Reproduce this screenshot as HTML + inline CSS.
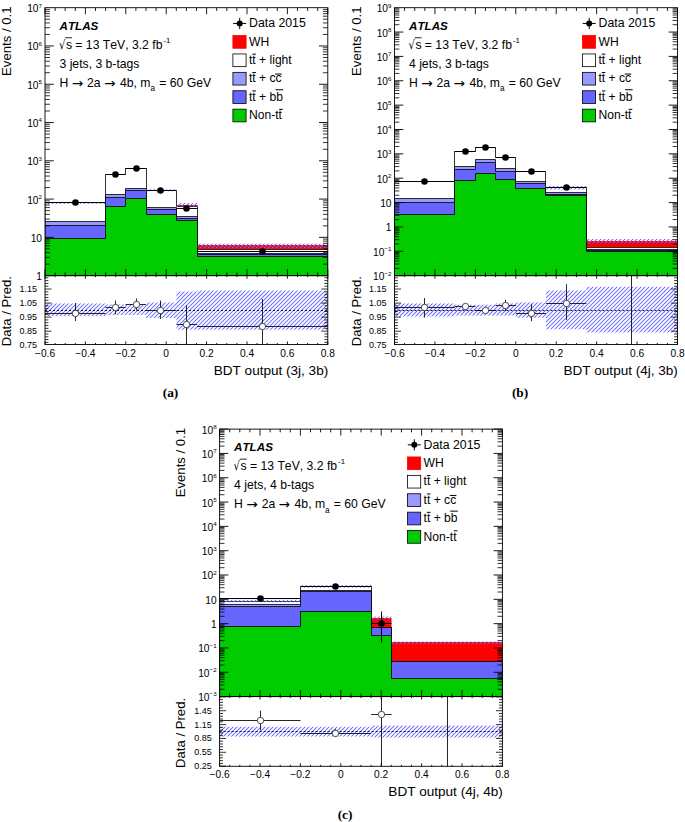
<!DOCTYPE html>
<html lang="en"><head><meta charset="utf-8"><title>ATLAS BDT output</title>
<style>html,body{margin:0;padding:0;background:#fff}body{width:685px;height:822px;overflow:hidden}svg text{white-space:pre;font-kerning:none;font-family:"Liberation Sans",Arial,Helvetica,sans-serif;fill:#000}</style></head>
<body>
<svg width="685" height="822" viewBox="0 0 685 822" style="display:block">
<rect width="685" height="822" fill="#fff"/>
<clipPath id="cma"><rect x="45.0" y="7.7" width="282.8" height="267.95"/></clipPath>
<clipPath id="cra"><rect x="45.0" y="275.65" width="282.8" height="68.85000000000002"/></clipPath>
<g clip-path="url(#cma)">
<rect x="176.5" y="205" width="21" height="1.5" fill="#ff0000"/>
<rect x="197.5" y="245" width="130.3" height="4.5" fill="#ff0000"/>
<path d="M45.00,277.65 L45.00,202.50 L105.50,202.50 L105.50,174.50 L125.50,174.50 L125.50,168.50 L146.50,168.50 L146.50,190.50 L176.50,190.50 L176.50,206.50 L197.50,206.50 L197.50,249.50 L327.80,249.50 L327.80,277.65Z" fill="#fff" stroke="#000" stroke-width="0.8" stroke-linejoin="miter"/>
<path d="M45.00,277.65 L45.00,221.50 L105.50,221.50 L105.50,194.50 L125.50,194.50 L125.50,188.50 L146.50,188.50 L146.50,207.50 L176.50,207.50 L176.50,216.50 L197.50,216.50 L197.50,253.50 L327.80,253.50 L327.80,277.65Z" fill="#9999ff" stroke="#000" stroke-width="0.8" stroke-linejoin="miter"/>
<path d="M45.00,277.65 L45.00,225.50 L105.50,225.50 L105.50,197.50 L125.50,197.50 L125.50,190.50 L146.50,190.50 L146.50,209.50 L176.50,209.50 L176.50,218.50 L197.50,218.50 L197.50,254.50 L327.80,254.50 L327.80,277.65Z" fill="#6666ff" stroke="#000" stroke-width="0.8" stroke-linejoin="miter"/>
<path d="M45.00,277.65 L45.00,238.50 L105.50,238.50 L105.50,206.50 L125.50,206.50 L125.50,198.50 L146.50,198.50 L146.50,214.50 L176.50,214.50 L176.50,220.50 L197.50,220.50 L197.50,256.50 L327.80,256.50 L327.80,277.65Z" fill="#00cc00" stroke="#000" stroke-width="0.8" stroke-linejoin="miter"/>
</g>
<clipPath id="h1"><rect x="45" y="201.9" width="60.5" height="2"/><rect x="146.5" y="189.2" width="30" height="2"/><rect x="176.5" y="203" width="21" height="3.8"/><rect x="197.5" y="243.8" width="130.3" height="4.6"/></clipPath>
<path clip-path="url(#h1)" d="M-17,249l60,-60M-13,249l60,-60M-9,249l60,-60M-5,249l60,-60M-1,249l60,-60M3,249l60,-60M7,249l60,-60M11,249l60,-60M15,249l60,-60M19,249l60,-60M23,249l60,-60M27,249l60,-60M31,249l60,-60M35,249l60,-60M39,249l60,-60M43,249l60,-60M47,249l60,-60M51,249l60,-60M55,249l60,-60M59,249l60,-60M63,249l60,-60M67,249l60,-60M71,249l60,-60M75,249l60,-60M79,249l60,-60M83,249l60,-60M87,249l60,-60M91,249l60,-60M95,249l60,-60M99,249l60,-60M103,249l60,-60M107,249l60,-60M111,249l60,-60M115,249l60,-60M119,249l60,-60M123,249l60,-60M127,249l60,-60M131,249l60,-60M135,249l60,-60M139,249l60,-60M143,249l60,-60M147,249l60,-60M151,249l60,-60M155,249l60,-60M159,249l60,-60M163,249l60,-60M167,249l60,-60M171,249l60,-60M175,249l60,-60M179,249l60,-60M183,249l60,-60M187,249l60,-60M191,249l60,-60M195,249l60,-60M199,249l60,-60M203,249l60,-60M207,249l60,-60M211,249l60,-60M215,249l60,-60M219,249l60,-60M223,249l60,-60M227,249l60,-60M231,249l60,-60M235,249l60,-60M239,249l60,-60M243,249l60,-60M247,249l60,-60M251,249l60,-60M255,249l60,-60M259,249l60,-60M263,249l60,-60M267,249l60,-60M271,249l60,-60M275,249l60,-60M279,249l60,-60M283,249l60,-60M287,249l60,-60M291,249l60,-60M295,249l60,-60M299,249l60,-60M303,249l60,-60M307,249l60,-60M311,249l60,-60M315,249l60,-60M319,249l60,-60M323,249l60,-60M327,249l60,-60" stroke="#6a6aff" stroke-width="1.05" fill="none"/>
<path d="M45,202.5L105.5,202.5" stroke="#000" stroke-width="1.0" />
<circle cx="75.50" cy="202.50" r="3.3" fill="#000"/>
<path d="M105.5,174.5L125.5,174.5" stroke="#000" stroke-width="1.0" />
<circle cx="115.50" cy="174.50" r="3.3" fill="#000"/>
<path d="M125.5,168.5L146.5,168.5" stroke="#000" stroke-width="1.0" />
<circle cx="136.50" cy="168.50" r="3.3" fill="#000"/>
<path d="M146.5,190.5L176.5,190.5" stroke="#000" stroke-width="1.0" />
<circle cx="160.50" cy="190.50" r="3.3" fill="#000"/>
<path d="M176.5,208.5L197.5,208.5" stroke="#000" stroke-width="1.0" />
<circle cx="186.50" cy="208.50" r="3.3" fill="#000"/>
<path d="M197.5,251.5L327.8,251.5" stroke="#000" stroke-width="1.0" />
<circle cx="262.50" cy="251.50" r="3.3" fill="#000"/>
<clipPath id="h2"><rect x="45" y="303.6" width="60.5" height="12.4"/><rect x="105.5" y="304.6" width="40.5" height="10.4"/><rect x="146" y="302.6" width="30.5" height="15.4"/><rect x="176.5" y="291.5" width="20.5" height="38.25"/><rect x="197" y="290.5" width="130.8" height="39.25"/></clipPath>
<path clip-path="url(#h2)" d="M2,330l40,-40M6,330l40,-40M10,330l40,-40M14,330l40,-40M18,330l40,-40M22,330l40,-40M26,330l40,-40M30,330l40,-40M34,330l40,-40M38,330l40,-40M42,330l40,-40M46,330l40,-40M50,330l40,-40M54,330l40,-40M58,330l40,-40M62,330l40,-40M66,330l40,-40M70,330l40,-40M74,330l40,-40M78,330l40,-40M82,330l40,-40M86,330l40,-40M90,330l40,-40M94,330l40,-40M98,330l40,-40M102,330l40,-40M106,330l40,-40M110,330l40,-40M114,330l40,-40M118,330l40,-40M122,330l40,-40M126,330l40,-40M130,330l40,-40M134,330l40,-40M138,330l40,-40M142,330l40,-40M146,330l40,-40M150,330l40,-40M154,330l40,-40M158,330l40,-40M162,330l40,-40M166,330l40,-40M170,330l40,-40M174,330l40,-40M178,330l40,-40M182,330l40,-40M186,330l40,-40M190,330l40,-40M194,330l40,-40M198,330l40,-40M202,330l40,-40M206,330l40,-40M210,330l40,-40M214,330l40,-40M218,330l40,-40M222,330l40,-40M226,330l40,-40M230,330l40,-40M234,330l40,-40M238,330l40,-40M242,330l40,-40M246,330l40,-40M250,330l40,-40M254,330l40,-40M258,330l40,-40M262,330l40,-40M266,330l40,-40M270,330l40,-40M274,330l40,-40M278,330l40,-40M282,330l40,-40M286,330l40,-40M290,330l40,-40M294,330l40,-40M298,330l40,-40M302,330l40,-40M306,330l40,-40M310,330l40,-40M314,330l40,-40M318,330l40,-40M322,330l40,-40M326,330l40,-40" stroke="#6a6aff" stroke-width="1.05" fill="none"/>
<g clip-path="url(#cra)">
<path d="M45,310.5L327.8,310.5" stroke="#000" stroke-width="0.9" stroke-dasharray="2 2"/>
<path d="M45,313.5L105.5,313.5" stroke="#111" stroke-width="0.9" />
<path d="M75.5,303L75.5,321" stroke="#111" stroke-width="0.9" />
<circle cx="75.50" cy="313.50" r="3.2" fill="#fff" stroke="#222" stroke-width="0.8"/>
<path d="M105.5,307.5L125.6,307.5" stroke="#111" stroke-width="0.9" />
<path d="M115.5,300.5L115.5,314.25" stroke="#111" stroke-width="0.9" />
<circle cx="115.50" cy="307.50" r="3.2" fill="#fff" stroke="#222" stroke-width="0.8"/>
<path d="M125.6,304.5L146,304.5" stroke="#111" stroke-width="0.9" />
<path d="M136.5,298.5L136.5,310.5" stroke="#111" stroke-width="0.9" />
<circle cx="136.50" cy="304.50" r="3.2" fill="#fff" stroke="#222" stroke-width="0.8"/>
<path d="M146,310.5L176.5,310.5" stroke="#111" stroke-width="0.9" />
<path d="M160.5,300.5L160.5,319" stroke="#111" stroke-width="0.9" />
<circle cx="160.50" cy="310.50" r="3.2" fill="#fff" stroke="#222" stroke-width="0.8"/>
<path d="M176.5,324.5L197,324.5" stroke="#111" stroke-width="0.9" />
<path d="M186.5,305.5L186.5,346" stroke="#111" stroke-width="0.9" />
<circle cx="186.50" cy="324.50" r="3.2" fill="#fff" stroke="#222" stroke-width="0.8"/>
<path d="M197,326.5L327.8,326.5" stroke="#111" stroke-width="0.9" />
<path d="M262.5,299L262.5,346" stroke="#111" stroke-width="0.9" />
<circle cx="262.50" cy="326.50" r="3.2" fill="#fff" stroke="#222" stroke-width="0.8"/>
</g>
<rect x="45.0" y="7.7" width="282.8" height="267.95" fill="none" stroke="#000" stroke-width="0.9"/>
<rect x="45.0" y="275.65" width="282.8" height="68.85000000000002" fill="none" stroke="#000" stroke-width="0.9"/>
<text x="45" y="357" font-size="10.2" text-anchor="middle" >−0.6</text>
<text x="85.4" y="357" font-size="10.2" text-anchor="middle" >−0.4</text>
<text x="125.8" y="357" font-size="10.2" text-anchor="middle" >−0.2</text>
<text x="166.2" y="357" font-size="10.2" text-anchor="middle" >0</text>
<text x="206.6" y="357" font-size="10.2" text-anchor="middle" >0.2</text>
<text x="247" y="357" font-size="10.2" text-anchor="middle" >0.4</text>
<text x="287.4" y="357" font-size="10.2" text-anchor="middle" >0.6</text>
<text x="327.8" y="357" font-size="10.2" text-anchor="middle" >0.8</text>
<text x="42" y="280.1" font-size="10.2" text-anchor="end" >1</text>
<text x="42" y="241.82" font-size="10.2" text-anchor="end" >10</text>
<text x="42" y="203.54" font-size="10.2" text-anchor="end" >10<tspan dy="-4.6" font-size="6.2">2</tspan></text>
<text x="42" y="165.26" font-size="10.2" text-anchor="end" >10<tspan dy="-4.6" font-size="6.2">3</tspan></text>
<text x="42" y="126.99" font-size="10.2" text-anchor="end" >10<tspan dy="-4.6" font-size="6.2">4</tspan></text>
<text x="42" y="88.71" font-size="10.2" text-anchor="end" >10<tspan dy="-4.6" font-size="6.2">5</tspan></text>
<text x="42" y="50.43" font-size="10.2" text-anchor="end" >10<tspan dy="-4.6" font-size="6.2">6</tspan></text>
<text x="42" y="12.15" font-size="10.2" text-anchor="end" >10<tspan dy="-4.6" font-size="6.2">7</tspan></text>
<text x="37.1" y="348.2" font-size="9.0" text-anchor="end" >0.75</text>
<text x="37.1" y="334.16" font-size="9.0" text-anchor="end" >0.85</text>
<text x="37.1" y="320.12" font-size="9.0" text-anchor="end" >0.95</text>
<text x="37.1" y="306.08" font-size="9.0" text-anchor="end" >1.05</text>
<text x="37.1" y="292.04" font-size="9.0" text-anchor="end" >1.15</text>
<path d="M45,7.7L45,14.2M45,275.65L45,269.15M45,275.65L45,278.65M45,344.5L45,341.5M55.1,7.7L55.1,10.9M55.1,275.65L55.1,272.45M55.1,275.65L55.1,277.15M55.1,344.5L55.1,343M65.2,7.7L65.2,10.9M65.2,275.65L65.2,272.45M65.2,275.65L65.2,277.15M65.2,344.5L65.2,343M75.3,7.7L75.3,10.9M75.3,275.65L75.3,272.45M75.3,275.65L75.3,277.15M75.3,344.5L75.3,343M85.4,7.7L85.4,14.2M85.4,275.65L85.4,269.15M85.4,275.65L85.4,278.65M85.4,344.5L85.4,341.5M95.5,7.7L95.5,10.9M95.5,275.65L95.5,272.45M95.5,275.65L95.5,277.15M95.5,344.5L95.5,343M105.6,7.7L105.6,10.9M105.6,275.65L105.6,272.45M105.6,275.65L105.6,277.15M105.6,344.5L105.6,343M115.7,7.7L115.7,10.9M115.7,275.65L115.7,272.45M115.7,275.65L115.7,277.15M115.7,344.5L115.7,343M125.8,7.7L125.8,14.2M125.8,275.65L125.8,269.15M125.8,275.65L125.8,278.65M125.8,344.5L125.8,341.5M135.9,7.7L135.9,10.9M135.9,275.65L135.9,272.45M135.9,275.65L135.9,277.15M135.9,344.5L135.9,343M146,7.7L146,10.9M146,275.65L146,272.45M146,275.65L146,277.15M146,344.5L146,343M156.1,7.7L156.1,10.9M156.1,275.65L156.1,272.45M156.1,275.65L156.1,277.15M156.1,344.5L156.1,343M166.2,7.7L166.2,14.2M166.2,275.65L166.2,269.15M166.2,275.65L166.2,278.65M166.2,344.5L166.2,341.5M176.3,7.7L176.3,10.9M176.3,275.65L176.3,272.45M176.3,275.65L176.3,277.15M176.3,344.5L176.3,343M186.4,7.7L186.4,10.9M186.4,275.65L186.4,272.45M186.4,275.65L186.4,277.15M186.4,344.5L186.4,343M196.5,7.7L196.5,10.9M196.5,275.65L196.5,272.45M196.5,275.65L196.5,277.15M196.5,344.5L196.5,343M206.6,7.7L206.6,14.2M206.6,275.65L206.6,269.15M206.6,275.65L206.6,278.65M206.6,344.5L206.6,341.5M216.7,7.7L216.7,10.9M216.7,275.65L216.7,272.45M216.7,275.65L216.7,277.15M216.7,344.5L216.7,343M226.8,7.7L226.8,10.9M226.8,275.65L226.8,272.45M226.8,275.65L226.8,277.15M226.8,344.5L226.8,343M236.9,7.7L236.9,10.9M236.9,275.65L236.9,272.45M236.9,275.65L236.9,277.15M236.9,344.5L236.9,343M247,7.7L247,14.2M247,275.65L247,269.15M247,275.65L247,278.65M247,344.5L247,341.5M257.1,7.7L257.1,10.9M257.1,275.65L257.1,272.45M257.1,275.65L257.1,277.15M257.1,344.5L257.1,343M267.2,7.7L267.2,10.9M267.2,275.65L267.2,272.45M267.2,275.65L267.2,277.15M267.2,344.5L267.2,343M277.3,7.7L277.3,10.9M277.3,275.65L277.3,272.45M277.3,275.65L277.3,277.15M277.3,344.5L277.3,343M287.4,7.7L287.4,14.2M287.4,275.65L287.4,269.15M287.4,275.65L287.4,278.65M287.4,344.5L287.4,341.5M297.5,7.7L297.5,10.9M297.5,275.65L297.5,272.45M297.5,275.65L297.5,277.15M297.5,344.5L297.5,343M307.6,7.7L307.6,10.9M307.6,275.65L307.6,272.45M307.6,275.65L307.6,277.15M307.6,344.5L307.6,343M317.7,7.7L317.7,10.9M317.7,275.65L317.7,272.45M317.7,275.65L317.7,277.15M317.7,344.5L317.7,343M327.8,7.7L327.8,14.2M327.8,275.65L327.8,269.15M327.8,275.65L327.8,278.65M327.8,344.5L327.8,341.5M45,275.65L53.8,275.65M327.8,275.65L319,275.65M45,237.37L53.8,237.37M327.8,237.37L319,237.37M45,199.09L53.8,199.09M327.8,199.09L319,199.09M45,160.81L53.8,160.81M327.8,160.81L319,160.81M45,122.54L53.8,122.54M327.8,122.54L319,122.54M45,84.26L53.8,84.26M327.8,84.26L319,84.26M45,45.98L53.8,45.98M327.8,45.98L319,45.98" stroke="#000" stroke-width="0.9" fill="none"/>
<path d="M45,264.13L49.9,264.13M327.8,264.13L322.9,264.13M45,257.39L49.9,257.39M327.8,257.39L322.9,257.39M45,252.6L49.9,252.6M327.8,252.6L322.9,252.6M45,248.89L49.9,248.89M327.8,248.89L322.9,248.89M45,245.86L49.9,245.86M327.8,245.86L322.9,245.86M45,243.3L49.9,243.3M327.8,243.3L322.9,243.3M45,241.08L49.9,241.08M327.8,241.08L322.9,241.08M45,239.12L49.9,239.12M327.8,239.12L322.9,239.12M45,225.85L49.9,225.85M327.8,225.85L322.9,225.85M45,219.11L49.9,219.11M327.8,219.11L322.9,219.11M45,214.33L49.9,214.33M327.8,214.33L322.9,214.33M45,210.62L49.9,210.62M327.8,210.62L322.9,210.62M45,207.58L49.9,207.58M327.8,207.58L322.9,207.58M45,205.02L49.9,205.02M327.8,205.02L322.9,205.02M45,202.8L49.9,202.8M327.8,202.8L322.9,202.8M45,200.84L49.9,200.84M327.8,200.84L322.9,200.84M45,187.57L49.9,187.57M327.8,187.57L322.9,187.57M45,180.83L49.9,180.83M327.8,180.83L322.9,180.83M45,176.05L49.9,176.05M327.8,176.05L322.9,176.05M45,172.34L49.9,172.34M327.8,172.34L322.9,172.34M45,169.31L49.9,169.31M327.8,169.31L322.9,169.31M45,166.74L49.9,166.74M327.8,166.74L322.9,166.74M45,164.52L49.9,164.52M327.8,164.52L322.9,164.52M45,162.57L49.9,162.57M327.8,162.57L322.9,162.57M45,149.29L49.9,149.29M327.8,149.29L322.9,149.29M45,142.55L49.9,142.55M327.8,142.55L322.9,142.55M45,137.77L49.9,137.77M327.8,137.77L322.9,137.77M45,134.06L49.9,134.06M327.8,134.06L322.9,134.06M45,131.03L49.9,131.03M327.8,131.03L322.9,131.03M45,128.47L49.9,128.47M327.8,128.47L322.9,128.47M45,126.25L49.9,126.25M327.8,126.25L322.9,126.25M45,124.29L49.9,124.29M327.8,124.29L322.9,124.29M45,111.01L49.9,111.01M327.8,111.01L322.9,111.01M45,104.27L49.9,104.27M327.8,104.27L322.9,104.27M45,99.49L49.9,99.49M327.8,99.49L322.9,99.49M45,95.78L49.9,95.78M327.8,95.78L322.9,95.78M45,92.75L49.9,92.75M327.8,92.75L322.9,92.75M45,90.19L49.9,90.19M327.8,90.19L322.9,90.19M45,87.97L49.9,87.97M327.8,87.97L322.9,87.97M45,86.01L49.9,86.01M327.8,86.01L322.9,86.01M45,72.73L49.9,72.73M327.8,72.73L322.9,72.73M45,65.99L49.9,65.99M327.8,65.99L322.9,65.99M45,61.21L49.9,61.21M327.8,61.21L322.9,61.21M45,57.5L49.9,57.5M327.8,57.5L322.9,57.5M45,54.47L49.9,54.47M327.8,54.47L322.9,54.47M45,51.91L49.9,51.91M327.8,51.91L322.9,51.91M45,49.69L49.9,49.69M327.8,49.69L322.9,49.69M45,47.73L49.9,47.73M327.8,47.73L322.9,47.73M45,34.46L49.9,34.46M327.8,34.46L322.9,34.46M45,27.72L49.9,27.72M327.8,27.72L322.9,27.72M45,22.93L49.9,22.93M327.8,22.93L322.9,22.93M45,19.22L49.9,19.22M327.8,19.22L322.9,19.22M45,16.19L49.9,16.19M327.8,16.19L322.9,16.19M45,13.63L49.9,13.63M327.8,13.63L322.9,13.63M45,11.41L49.9,11.41M327.8,11.41L322.9,11.41M45,9.45L49.9,9.45M327.8,9.45L322.9,9.45M45,342.39L48.4,342.39M327.8,342.39L324.4,342.39M45,339.58L48.4,339.58M327.8,339.58L324.4,339.58M45,336.78L48.4,336.78M327.8,336.78L324.4,336.78M45,333.97L48.4,333.97M327.8,333.97L324.4,333.97M45,331.16L51.5,331.16M327.8,331.16L321.3,331.16M45,328.35L48.4,328.35M327.8,328.35L324.4,328.35M45,325.54L48.4,325.54M327.8,325.54L324.4,325.54M45,322.74L48.4,322.74M327.8,322.74L324.4,322.74M45,319.93L48.4,319.93M327.8,319.93L324.4,319.93M45,317.12L51.5,317.12M327.8,317.12L321.3,317.12M45,314.31L48.4,314.31M327.8,314.31L324.4,314.31M45,311.5L48.4,311.5M327.8,311.5L324.4,311.5M45,308.7L48.4,308.7M327.8,308.7L324.4,308.7M45,305.89L48.4,305.89M327.8,305.89L324.4,305.89M45,303.08L51.5,303.08M327.8,303.08L321.3,303.08M45,300.27L48.4,300.27M327.8,300.27L324.4,300.27M45,297.46L48.4,297.46M327.8,297.46L324.4,297.46M45,294.66L48.4,294.66M327.8,294.66L324.4,294.66M45,291.85L48.4,291.85M327.8,291.85L324.4,291.85M45,289.04L51.5,289.04M327.8,289.04L321.3,289.04M45,286.23L48.4,286.23M327.8,286.23L324.4,286.23M45,283.42L48.4,283.42M327.8,283.42L324.4,283.42M45,280.62L48.4,280.62M327.8,280.62L324.4,280.62M45,277.81L48.4,277.81M327.8,277.81L324.4,277.81" stroke="#000" stroke-width="0.8" fill="none"/>
<text x="328.2" y="374.9" font-size="13.55" text-anchor="end" >BDT output (3j, 3b)</text>
<text transform="translate(11.10,6.50) rotate(-90)" font-size="13.15" text-anchor="end">Events / 0.1</text>
<text transform="translate(11.10,346.20) rotate(-90)" font-size="13.15" text-anchor="start">Data / Pred.</text>
<text x="59.5" y="29.7" font-size="11.65" font-weight="bold" font-style="italic" >ATLAS</text>
<text x="58.9" y="49" font-size="12.6" style="font-family:'DejaVu Sans',sans-serif" textLength="6.4" lengthAdjust="spacingAndGlyphs">√</text>
<path d="M65.1,37.75L72.1,37.75" stroke="#000" stroke-width="0.85" />
<text x="65.9" y="48.8" font-size="12.2" >s = 13 TeV, 3.2 fb<tspan dy="-6.2" dx="1.0" font-size="7.8">-1</tspan></text>
<text x="59.5" y="67.9" font-size="12.2" >3 jets, 3 b-tags</text>
<text x="59.5" y="86.9" font-size="12.2" >H <tspan font-family="DejaVu Sans" font-size="13.6" dy="0.6">→</tspan><tspan dy="-0.6" dx="0.6"> 2a </tspan><tspan font-family="DejaVu Sans" font-size="13.6" dy="0.6">→</tspan><tspan dy="-0.6" dx="1.2"> 4b, m</tspan><tspan dy="4.4" font-size="8.2">a</tspan><tspan dy="-4.4" dx="0.8"> = 60 GeV</tspan></text>
<path d="M233.2,23.45L246.2,23.45" stroke="#000" stroke-width="1.0" />
<path d="M239.7,17.85L239.7,29.05" stroke="#000" stroke-width="1.0" />
<circle cx="239.70" cy="23.45" r="3.0" fill="#000"/>
<text x="249" y="27.35" font-size="12.3" >Data 2015</text>
<rect x="232.90" y="35.55" width="13.2" height="12.7" fill="#ff0000" stroke="#ff0000" stroke-width="0.8"/>
<text x="249" y="45.65" font-size="12.1" >WH</text>
<rect x="232.90" y="53.95" width="13.2" height="12.7" fill="#fff" stroke="#000" stroke-width="0.8"/>
<text x="249" y="64.05" font-size="12.1" >tt + light</text>
<path d="M252.3,54.15L255.9,54.15" stroke="#000" stroke-width="1.0" />
<rect x="232.90" y="72.35" width="13.2" height="12.7" fill="#9999ff" stroke="#000" stroke-width="0.8"/>
<text x="249" y="82.45" font-size="12.1" >tt + cc</text>
<path d="M252.3,72.55L255.9,72.55" stroke="#000" stroke-width="1.0" />
<path d="M275.2,74.05L281.8,74.05" stroke="#000" stroke-width="1.0" />
<rect x="232.90" y="90.75" width="13.2" height="12.7" fill="#6666ff" stroke="#000" stroke-width="0.8"/>
<text x="249" y="100.85" font-size="12.1" >tt + bb</text>
<path d="M252.3,90.95L255.9,90.95" stroke="#000" stroke-width="1.0" />
<path d="M275.6,89.75L283.2,89.75" stroke="#000" stroke-width="1.0" />
<rect x="232.90" y="109.15" width="13.2" height="12.7" fill="#00cc00" stroke="#000" stroke-width="0.8"/>
<text x="249" y="119.25" font-size="12.1" >Non-tt</text>
<path d="M279.2,109.35L282.8,109.35" stroke="#000" stroke-width="1.0" />
<text x="170.5" y="397.3" font-size="13.4" text-anchor="middle" style='font-family:"Liberation Serif", "Times New Roman", serif' font-weight="bold" >(a)</text>
<clipPath id="cmb"><rect x="394.5" y="7.7" width="283.0" height="267.95"/></clipPath>
<clipPath id="crb"><rect x="394.5" y="275.65" width="283.0" height="68.85000000000002"/></clipPath>
<g clip-path="url(#cmb)">
<rect x="586.5" y="241" width="91" height="6.5" fill="#ff0000"/>
<path d="M394.50,277.65 L394.50,181.50 L454.50,181.50 L454.50,151.50 L475.50,151.50 L475.50,147.50 L495.50,147.50 L495.50,157.50 L515.50,157.50 L515.50,171.50 L545.50,171.50 L545.50,187.50 L586.50,187.50 L586.50,247.50 L677.50,247.50 L677.50,277.65Z" fill="#fff" stroke="#000" stroke-width="0.8" stroke-linejoin="miter"/>
<path d="M394.50,277.65 L394.50,198.50 L454.50,198.50 L454.50,166.50 L475.50,166.50 L475.50,159.50 L495.50,159.50 L495.50,168.50 L515.50,168.50 L515.50,181.50 L545.50,181.50 L545.50,192.50 L586.50,192.50 L586.50,249.50 L677.50,249.50 L677.50,277.65Z" fill="#9999ff" stroke="#000" stroke-width="0.8" stroke-linejoin="miter"/>
<path d="M394.50,277.65 L394.50,202.50 L454.50,202.50 L454.50,169.50 L475.50,169.50 L475.50,162.50 L495.50,162.50 L495.50,171.50 L515.50,171.50 L515.50,183.50 L545.50,183.50 L545.50,194.50 L586.50,194.50 L586.50,250.50 L677.50,250.50 L677.50,277.65Z" fill="#6666ff" stroke="#000" stroke-width="0.8" stroke-linejoin="miter"/>
<path d="M394.50,277.65 L394.50,214.50 L454.50,214.50 L454.50,180.50 L475.50,180.50 L475.50,173.50 L495.50,173.50 L495.50,179.50 L515.50,179.50 L515.50,188.50 L545.50,188.50 L545.50,195.50 L586.50,195.50 L586.50,251.50 L677.50,251.50 L677.50,277.65Z" fill="#00cc00" stroke="#000" stroke-width="0.8" stroke-linejoin="miter"/>
</g>
<clipPath id="h3"><rect x="545.5" y="185.9" width="41" height="3.5"/><rect x="586.5" y="239" width="91" height="4.3"/></clipPath>
<path clip-path="url(#h3)" d="M484,244l59,-59M488,244l59,-59M492,244l59,-59M496,244l59,-59M500,244l59,-59M504,244l59,-59M508,244l59,-59M512,244l59,-59M516,244l59,-59M520,244l59,-59M524,244l59,-59M528,244l59,-59M532,244l59,-59M536,244l59,-59M540,244l59,-59M544,244l59,-59M548,244l59,-59M552,244l59,-59M556,244l59,-59M560,244l59,-59M564,244l59,-59M568,244l59,-59M572,244l59,-59M576,244l59,-59M580,244l59,-59M584,244l59,-59M588,244l59,-59M592,244l59,-59M596,244l59,-59M600,244l59,-59M604,244l59,-59M608,244l59,-59M612,244l59,-59M616,244l59,-59M620,244l59,-59M624,244l59,-59M628,244l59,-59M632,244l59,-59M636,244l59,-59M640,244l59,-59M644,244l59,-59M648,244l59,-59M652,244l59,-59M656,244l59,-59M660,244l59,-59M664,244l59,-59M668,244l59,-59M672,244l59,-59M676,244l59,-59" stroke="#6a6aff" stroke-width="1.05" fill="none"/>
<path d="M394.5,181.5L454.5,181.5" stroke="#000" stroke-width="1.0" />
<circle cx="424.50" cy="181.50" r="3.3" fill="#000"/>
<path d="M454.5,151.5L475.5,151.5" stroke="#000" stroke-width="1.0" />
<circle cx="465.50" cy="151.50" r="3.3" fill="#000"/>
<path d="M475.5,147.5L495.5,147.5" stroke="#000" stroke-width="1.0" />
<circle cx="485.50" cy="147.50" r="3.3" fill="#000"/>
<path d="M495.5,157.5L515.5,157.5" stroke="#000" stroke-width="1.0" />
<circle cx="505.50" cy="157.50" r="3.3" fill="#000"/>
<path d="M515.5,171.5L545.5,171.5" stroke="#000" stroke-width="1.0" />
<circle cx="531.50" cy="171.50" r="3.3" fill="#000"/>
<path d="M545.5,187.5L586.5,187.5" stroke="#000" stroke-width="1.0" />
<circle cx="566.50" cy="187.50" r="3.3" fill="#000"/>
<clipPath id="h4"><rect x="394.5" y="303.6" width="60.25" height="12.9"/><rect x="454.75" y="304.8" width="40.85" height="10.7"/><rect x="495.6" y="303.6" width="20.3" height="11.9"/><rect x="515.9" y="302.5" width="30.05" height="15.2"/><rect x="545.95" y="290.5" width="40.45" height="38.75"/><rect x="586.4" y="286.75" width="91.1" height="45.75"/></clipPath>
<path clip-path="url(#h4)" d="M347,333l47,-47M351,333l47,-47M355,333l47,-47M359,333l47,-47M363,333l47,-47M367,333l47,-47M371,333l47,-47M375,333l47,-47M379,333l47,-47M383,333l47,-47M387,333l47,-47M391,333l47,-47M395,333l47,-47M399,333l47,-47M403,333l47,-47M407,333l47,-47M411,333l47,-47M415,333l47,-47M419,333l47,-47M423,333l47,-47M427,333l47,-47M431,333l47,-47M435,333l47,-47M439,333l47,-47M443,333l47,-47M447,333l47,-47M451,333l47,-47M455,333l47,-47M459,333l47,-47M463,333l47,-47M467,333l47,-47M471,333l47,-47M475,333l47,-47M479,333l47,-47M483,333l47,-47M487,333l47,-47M491,333l47,-47M495,333l47,-47M499,333l47,-47M503,333l47,-47M507,333l47,-47M511,333l47,-47M515,333l47,-47M519,333l47,-47M523,333l47,-47M527,333l47,-47M531,333l47,-47M535,333l47,-47M539,333l47,-47M543,333l47,-47M547,333l47,-47M551,333l47,-47M555,333l47,-47M559,333l47,-47M563,333l47,-47M567,333l47,-47M571,333l47,-47M575,333l47,-47M579,333l47,-47M583,333l47,-47M587,333l47,-47M591,333l47,-47M595,333l47,-47M599,333l47,-47M603,333l47,-47M607,333l47,-47M611,333l47,-47M615,333l47,-47M619,333l47,-47M623,333l47,-47M627,333l47,-47M631,333l47,-47M635,333l47,-47M639,333l47,-47M643,333l47,-47M647,333l47,-47M651,333l47,-47M655,333l47,-47M659,333l47,-47M663,333l47,-47M667,333l47,-47M671,333l47,-47M675,333l47,-47" stroke="#6a6aff" stroke-width="1.05" fill="none"/>
<g clip-path="url(#crb)">
<path d="M394.5,310.5L677.5,310.5" stroke="#000" stroke-width="0.9" stroke-dasharray="2 2"/>
<path d="M394.5,307.5L454.75,307.5" stroke="#111" stroke-width="0.9" />
<path d="M424.5,298L424.5,317.5" stroke="#111" stroke-width="0.9" />
<circle cx="424.50" cy="307.50" r="3.2" fill="#fff" stroke="#222" stroke-width="0.8"/>
<path d="M454.75,306.5L475.4,306.5" stroke="#111" stroke-width="0.9" />
<path d="M465.5,304.5L465.5,309" stroke="#111" stroke-width="0.9" />
<circle cx="465.50" cy="306.50" r="3.2" fill="#fff" stroke="#222" stroke-width="0.8"/>
<path d="M475.4,310.5L495.6,310.5" stroke="#111" stroke-width="0.9" />
<path d="M485.5,308.5L485.5,312.5" stroke="#111" stroke-width="0.9" />
<circle cx="485.50" cy="310.50" r="3.2" fill="#fff" stroke="#222" stroke-width="0.8"/>
<path d="M495.6,305.5L515.9,305.5" stroke="#111" stroke-width="0.9" />
<path d="M505.5,299.75L505.5,311" stroke="#111" stroke-width="0.9" />
<circle cx="505.50" cy="305.50" r="3.2" fill="#fff" stroke="#222" stroke-width="0.8"/>
<path d="M515.9,313.5L545.95,313.5" stroke="#111" stroke-width="0.9" />
<path d="M531.5,304.25L531.5,321.25" stroke="#111" stroke-width="0.9" />
<circle cx="531.50" cy="313.50" r="3.2" fill="#fff" stroke="#222" stroke-width="0.8"/>
<path d="M545.95,303.5L586.4,303.5" stroke="#111" stroke-width="0.9" />
<path d="M566.5,284.25L566.5,320" stroke="#111" stroke-width="0.9" />
<circle cx="566.50" cy="303.50" r="3.2" fill="#fff" stroke="#222" stroke-width="0.8"/>
<path d="M631.5,270L631.5,350" stroke="#111" stroke-width="0.9" />
</g>
<rect x="394.5" y="7.7" width="283.0" height="267.95" fill="none" stroke="#000" stroke-width="0.9"/>
<rect x="394.5" y="275.65" width="283.0" height="68.85000000000002" fill="none" stroke="#000" stroke-width="0.9"/>
<text x="394.5" y="357" font-size="10.2" text-anchor="middle" >−0.6</text>
<text x="434.93" y="357" font-size="10.2" text-anchor="middle" >−0.4</text>
<text x="475.36" y="357" font-size="10.2" text-anchor="middle" >−0.2</text>
<text x="515.79" y="357" font-size="10.2" text-anchor="middle" >0</text>
<text x="556.21" y="357" font-size="10.2" text-anchor="middle" >0.2</text>
<text x="596.64" y="357" font-size="10.2" text-anchor="middle" >0.4</text>
<text x="637.07" y="357" font-size="10.2" text-anchor="middle" >0.6</text>
<text x="677.5" y="357" font-size="10.2" text-anchor="middle" >0.8</text>
<text x="391.5" y="280.1" font-size="10.2" text-anchor="end" >10<tspan dy="-4.6" font-size="6.2">−2</tspan></text>
<text x="391.5" y="255.74" font-size="10.2" text-anchor="end" >10<tspan dy="-4.6" font-size="6.2">−1</tspan></text>
<text x="391.5" y="231.38" font-size="10.2" text-anchor="end" >1</text>
<text x="391.5" y="207.02" font-size="10.2" text-anchor="end" >10</text>
<text x="391.5" y="182.66" font-size="10.2" text-anchor="end" >10<tspan dy="-4.6" font-size="6.2">2</tspan></text>
<text x="391.5" y="158.3" font-size="10.2" text-anchor="end" >10<tspan dy="-4.6" font-size="6.2">3</tspan></text>
<text x="391.5" y="133.95" font-size="10.2" text-anchor="end" >10<tspan dy="-4.6" font-size="6.2">4</tspan></text>
<text x="391.5" y="109.59" font-size="10.2" text-anchor="end" >10<tspan dy="-4.6" font-size="6.2">5</tspan></text>
<text x="391.5" y="85.23" font-size="10.2" text-anchor="end" >10<tspan dy="-4.6" font-size="6.2">6</tspan></text>
<text x="391.5" y="60.87" font-size="10.2" text-anchor="end" >10<tspan dy="-4.6" font-size="6.2">7</tspan></text>
<text x="391.5" y="36.51" font-size="10.2" text-anchor="end" >10<tspan dy="-4.6" font-size="6.2">8</tspan></text>
<text x="391.5" y="12.15" font-size="10.2" text-anchor="end" >10<tspan dy="-4.6" font-size="6.2">9</tspan></text>
<text x="386.6" y="348.2" font-size="9.0" text-anchor="end" >0.75</text>
<text x="386.6" y="334.16" font-size="9.0" text-anchor="end" >0.85</text>
<text x="386.6" y="320.12" font-size="9.0" text-anchor="end" >0.95</text>
<text x="386.6" y="306.08" font-size="9.0" text-anchor="end" >1.05</text>
<text x="386.6" y="292.04" font-size="9.0" text-anchor="end" >1.15</text>
<path d="M394.5,7.7L394.5,14.2M394.5,275.65L394.5,269.15M394.5,275.65L394.5,278.65M394.5,344.5L394.5,341.5M404.61,7.7L404.61,10.9M404.61,275.65L404.61,272.45M404.61,275.65L404.61,277.15M404.61,344.5L404.61,343M414.71,7.7L414.71,10.9M414.71,275.65L414.71,272.45M414.71,275.65L414.71,277.15M414.71,344.5L414.71,343M424.82,7.7L424.82,10.9M424.82,275.65L424.82,272.45M424.82,275.65L424.82,277.15M424.82,344.5L424.82,343M434.93,7.7L434.93,14.2M434.93,275.65L434.93,269.15M434.93,275.65L434.93,278.65M434.93,344.5L434.93,341.5M445.04,7.7L445.04,10.9M445.04,275.65L445.04,272.45M445.04,275.65L445.04,277.15M445.04,344.5L445.04,343M455.14,7.7L455.14,10.9M455.14,275.65L455.14,272.45M455.14,275.65L455.14,277.15M455.14,344.5L455.14,343M465.25,7.7L465.25,10.9M465.25,275.65L465.25,272.45M465.25,275.65L465.25,277.15M465.25,344.5L465.25,343M475.36,7.7L475.36,14.2M475.36,275.65L475.36,269.15M475.36,275.65L475.36,278.65M475.36,344.5L475.36,341.5M485.46,7.7L485.46,10.9M485.46,275.65L485.46,272.45M485.46,275.65L485.46,277.15M485.46,344.5L485.46,343M495.57,7.7L495.57,10.9M495.57,275.65L495.57,272.45M495.57,275.65L495.57,277.15M495.57,344.5L495.57,343M505.68,7.7L505.68,10.9M505.68,275.65L505.68,272.45M505.68,275.65L505.68,277.15M505.68,344.5L505.68,343M515.79,7.7L515.79,14.2M515.79,275.65L515.79,269.15M515.79,275.65L515.79,278.65M515.79,344.5L515.79,341.5M525.89,7.7L525.89,10.9M525.89,275.65L525.89,272.45M525.89,275.65L525.89,277.15M525.89,344.5L525.89,343M536,7.7L536,10.9M536,275.65L536,272.45M536,275.65L536,277.15M536,344.5L536,343M546.11,7.7L546.11,10.9M546.11,275.65L546.11,272.45M546.11,275.65L546.11,277.15M546.11,344.5L546.11,343M556.21,7.7L556.21,14.2M556.21,275.65L556.21,269.15M556.21,275.65L556.21,278.65M556.21,344.5L556.21,341.5M566.32,7.7L566.32,10.9M566.32,275.65L566.32,272.45M566.32,275.65L566.32,277.15M566.32,344.5L566.32,343M576.43,7.7L576.43,10.9M576.43,275.65L576.43,272.45M576.43,275.65L576.43,277.15M576.43,344.5L576.43,343M586.54,7.7L586.54,10.9M586.54,275.65L586.54,272.45M586.54,275.65L586.54,277.15M586.54,344.5L586.54,343M596.64,7.7L596.64,14.2M596.64,275.65L596.64,269.15M596.64,275.65L596.64,278.65M596.64,344.5L596.64,341.5M606.75,7.7L606.75,10.9M606.75,275.65L606.75,272.45M606.75,275.65L606.75,277.15M606.75,344.5L606.75,343M616.86,7.7L616.86,10.9M616.86,275.65L616.86,272.45M616.86,275.65L616.86,277.15M616.86,344.5L616.86,343M626.96,7.7L626.96,10.9M626.96,275.65L626.96,272.45M626.96,275.65L626.96,277.15M626.96,344.5L626.96,343M637.07,7.7L637.07,14.2M637.07,275.65L637.07,269.15M637.07,275.65L637.07,278.65M637.07,344.5L637.07,341.5M647.18,7.7L647.18,10.9M647.18,275.65L647.18,272.45M647.18,275.65L647.18,277.15M647.18,344.5L647.18,343M657.29,7.7L657.29,10.9M657.29,275.65L657.29,272.45M657.29,275.65L657.29,277.15M657.29,344.5L657.29,343M667.39,7.7L667.39,10.9M667.39,275.65L667.39,272.45M667.39,275.65L667.39,277.15M667.39,344.5L667.39,343M677.5,7.7L677.5,14.2M677.5,275.65L677.5,269.15M677.5,275.65L677.5,278.65M677.5,344.5L677.5,341.5M394.5,275.65L403.3,275.65M677.5,275.65L668.7,275.65M394.5,251.29L403.3,251.29M677.5,251.29L668.7,251.29M394.5,226.93L403.3,226.93M677.5,226.93L668.7,226.93M394.5,202.57L403.3,202.57M677.5,202.57L668.7,202.57M394.5,178.21L403.3,178.21M677.5,178.21L668.7,178.21M394.5,153.85L403.3,153.85M677.5,153.85L668.7,153.85M394.5,129.5L403.3,129.5M677.5,129.5L668.7,129.5M394.5,105.14L403.3,105.14M677.5,105.14L668.7,105.14M394.5,80.78L403.3,80.78M677.5,80.78L668.7,80.78M394.5,56.42L403.3,56.42M677.5,56.42L668.7,56.42M394.5,32.06L403.3,32.06M677.5,32.06L668.7,32.06" stroke="#000" stroke-width="0.9" fill="none"/>
<path d="M394.5,268.32L399.4,268.32M677.5,268.32L672.6,268.32M394.5,264.03L399.4,264.03M677.5,264.03L672.6,264.03M394.5,260.98L399.4,260.98M677.5,260.98L672.6,260.98M394.5,258.62L399.4,258.62M677.5,258.62L672.6,258.62M394.5,256.69L399.4,256.69M677.5,256.69L672.6,256.69M394.5,255.06L399.4,255.06M677.5,255.06L672.6,255.06M394.5,253.65L399.4,253.65M677.5,253.65L672.6,253.65M394.5,252.41L399.4,252.41M677.5,252.41L672.6,252.41M394.5,243.96L399.4,243.96M677.5,243.96L672.6,243.96M394.5,239.67L399.4,239.67M677.5,239.67L672.6,239.67M394.5,236.63L399.4,236.63M677.5,236.63L672.6,236.63M394.5,234.26L399.4,234.26M677.5,234.26L672.6,234.26M394.5,232.34L399.4,232.34M677.5,232.34L672.6,232.34M394.5,230.71L399.4,230.71M677.5,230.71L672.6,230.71M394.5,229.29L399.4,229.29M677.5,229.29L672.6,229.29M394.5,228.05L399.4,228.05M677.5,228.05L672.6,228.05M394.5,219.6L399.4,219.6M677.5,219.6L672.6,219.6M394.5,215.31L399.4,215.31M677.5,215.31L672.6,215.31M394.5,212.27L399.4,212.27M677.5,212.27L672.6,212.27M394.5,209.91L399.4,209.91M677.5,209.91L672.6,209.91M394.5,207.98L399.4,207.98M677.5,207.98L672.6,207.98M394.5,206.35L399.4,206.35M677.5,206.35L672.6,206.35M394.5,204.93L399.4,204.93M677.5,204.93L672.6,204.93M394.5,203.69L399.4,203.69M677.5,203.69L672.6,203.69M394.5,195.24L399.4,195.24M677.5,195.24L672.6,195.24M394.5,190.95L399.4,190.95M677.5,190.95L672.6,190.95M394.5,187.91L399.4,187.91M677.5,187.91L672.6,187.91M394.5,185.55L399.4,185.55M677.5,185.55L672.6,185.55M394.5,183.62L399.4,183.62M677.5,183.62L672.6,183.62M394.5,181.99L399.4,181.99M677.5,181.99L672.6,181.99M394.5,180.57L399.4,180.57M677.5,180.57L672.6,180.57M394.5,179.33L399.4,179.33M677.5,179.33L672.6,179.33M394.5,170.88L399.4,170.88M677.5,170.88L672.6,170.88M394.5,166.59L399.4,166.59M677.5,166.59L672.6,166.59M394.5,163.55L399.4,163.55M677.5,163.55L672.6,163.55M394.5,161.19L399.4,161.19M677.5,161.19L672.6,161.19M394.5,159.26L399.4,159.26M677.5,159.26L672.6,159.26M394.5,157.63L399.4,157.63M677.5,157.63L672.6,157.63M394.5,156.22L399.4,156.22M677.5,156.22L672.6,156.22M394.5,154.97L399.4,154.97M677.5,154.97L672.6,154.97M394.5,146.52L399.4,146.52M677.5,146.52L672.6,146.52M394.5,142.23L399.4,142.23M677.5,142.23L672.6,142.23M394.5,139.19L399.4,139.19M677.5,139.19L672.6,139.19M394.5,136.83L399.4,136.83M677.5,136.83L672.6,136.83M394.5,134.9L399.4,134.9M677.5,134.9L672.6,134.9M394.5,133.27L399.4,133.27M677.5,133.27L672.6,133.27M394.5,131.86L399.4,131.86M677.5,131.86L672.6,131.86M394.5,130.61L399.4,130.61M677.5,130.61L672.6,130.61M394.5,122.16L399.4,122.16M677.5,122.16L672.6,122.16M394.5,117.87L399.4,117.87M677.5,117.87L672.6,117.87M394.5,114.83L399.4,114.83M677.5,114.83L672.6,114.83M394.5,112.47L399.4,112.47M677.5,112.47L672.6,112.47M394.5,110.54L399.4,110.54M677.5,110.54L672.6,110.54M394.5,108.91L399.4,108.91M677.5,108.91L672.6,108.91M394.5,107.5L399.4,107.5M677.5,107.5L672.6,107.5M394.5,106.25L399.4,106.25M677.5,106.25L672.6,106.25M394.5,97.8L399.4,97.8M677.5,97.8L672.6,97.8M394.5,93.51L399.4,93.51M677.5,93.51L672.6,93.51M394.5,90.47L399.4,90.47M677.5,90.47L672.6,90.47M394.5,88.11L399.4,88.11M677.5,88.11L672.6,88.11M394.5,86.18L399.4,86.18M677.5,86.18L672.6,86.18M394.5,84.55L399.4,84.55M677.5,84.55L672.6,84.55M394.5,83.14L399.4,83.14M677.5,83.14L672.6,83.14M394.5,81.89L399.4,81.89M677.5,81.89L672.6,81.89M394.5,73.44L399.4,73.44M677.5,73.44L672.6,73.44M394.5,69.16L399.4,69.16M677.5,69.16L672.6,69.16M394.5,66.11L399.4,66.11M677.5,66.11L672.6,66.11M394.5,63.75L399.4,63.75M677.5,63.75L672.6,63.75M394.5,61.82L399.4,61.82M677.5,61.82L672.6,61.82M394.5,60.19L399.4,60.19M677.5,60.19L672.6,60.19M394.5,58.78L399.4,58.78M677.5,58.78L672.6,58.78M394.5,57.53L399.4,57.53M677.5,57.53L672.6,57.53M394.5,49.09L399.4,49.09M677.5,49.09L672.6,49.09M394.5,44.8L399.4,44.8M677.5,44.8L672.6,44.8M394.5,41.75L399.4,41.75M677.5,41.75L672.6,41.75M394.5,39.39L399.4,39.39M677.5,39.39L672.6,39.39M394.5,37.46L399.4,37.46M677.5,37.46L672.6,37.46M394.5,35.83L399.4,35.83M677.5,35.83L672.6,35.83M394.5,34.42L399.4,34.42M677.5,34.42L672.6,34.42M394.5,33.17L399.4,33.17M677.5,33.17L672.6,33.17M394.5,24.73L399.4,24.73M677.5,24.73L672.6,24.73M394.5,20.44L399.4,20.44M677.5,20.44L672.6,20.44M394.5,17.39L399.4,17.39M677.5,17.39L672.6,17.39M394.5,15.03L399.4,15.03M677.5,15.03L672.6,15.03M394.5,13.1L399.4,13.1M677.5,13.1L672.6,13.1M394.5,11.47L399.4,11.47M677.5,11.47L672.6,11.47M394.5,10.06L399.4,10.06M677.5,10.06L672.6,10.06M394.5,8.81L399.4,8.81M677.5,8.81L672.6,8.81M394.5,342.39L397.9,342.39M677.5,342.39L674.1,342.39M394.5,339.58L397.9,339.58M677.5,339.58L674.1,339.58M394.5,336.78L397.9,336.78M677.5,336.78L674.1,336.78M394.5,333.97L397.9,333.97M677.5,333.97L674.1,333.97M394.5,331.16L401,331.16M677.5,331.16L671,331.16M394.5,328.35L397.9,328.35M677.5,328.35L674.1,328.35M394.5,325.54L397.9,325.54M677.5,325.54L674.1,325.54M394.5,322.74L397.9,322.74M677.5,322.74L674.1,322.74M394.5,319.93L397.9,319.93M677.5,319.93L674.1,319.93M394.5,317.12L401,317.12M677.5,317.12L671,317.12M394.5,314.31L397.9,314.31M677.5,314.31L674.1,314.31M394.5,311.5L397.9,311.5M677.5,311.5L674.1,311.5M394.5,308.7L397.9,308.7M677.5,308.7L674.1,308.7M394.5,305.89L397.9,305.89M677.5,305.89L674.1,305.89M394.5,303.08L401,303.08M677.5,303.08L671,303.08M394.5,300.27L397.9,300.27M677.5,300.27L674.1,300.27M394.5,297.46L397.9,297.46M677.5,297.46L674.1,297.46M394.5,294.66L397.9,294.66M677.5,294.66L674.1,294.66M394.5,291.85L397.9,291.85M677.5,291.85L674.1,291.85M394.5,289.04L401,289.04M677.5,289.04L671,289.04M394.5,286.23L397.9,286.23M677.5,286.23L674.1,286.23M394.5,283.42L397.9,283.42M677.5,283.42L674.1,283.42M394.5,280.62L397.9,280.62M677.5,280.62L674.1,280.62M394.5,277.81L397.9,277.81M677.5,277.81L674.1,277.81" stroke="#000" stroke-width="0.8" fill="none"/>
<text x="677.9" y="374.9" font-size="13.55" text-anchor="end" >BDT output (4j, 3b)</text>
<text transform="translate(360.60,6.50) rotate(-90)" font-size="13.15" text-anchor="end">Events / 0.1</text>
<text transform="translate(360.60,346.20) rotate(-90)" font-size="13.15" text-anchor="start">Data / Pred.</text>
<text x="409" y="29.7" font-size="11.65" font-weight="bold" font-style="italic" >ATLAS</text>
<text x="408.4" y="49" font-size="12.6" style="font-family:'DejaVu Sans',sans-serif" textLength="6.4" lengthAdjust="spacingAndGlyphs">√</text>
<path d="M414.6,37.75L421.6,37.75" stroke="#000" stroke-width="0.85" />
<text x="415.4" y="48.8" font-size="12.2" >s = 13 TeV, 3.2 fb<tspan dy="-6.2" dx="1.0" font-size="7.8">-1</tspan></text>
<text x="409" y="67.9" font-size="12.2" >4 jets, 3 b-tags</text>
<text x="409" y="86.9" font-size="12.2" >H <tspan font-family="DejaVu Sans" font-size="13.6" dy="0.6">→</tspan><tspan dy="-0.6" dx="0.6"> 2a </tspan><tspan font-family="DejaVu Sans" font-size="13.6" dy="0.6">→</tspan><tspan dy="-0.6" dx="1.2"> 4b, m</tspan><tspan dy="4.4" font-size="8.2">a</tspan><tspan dy="-4.4" dx="0.8"> = 60 GeV</tspan></text>
<path d="M582.7,23.45L595.7,23.45" stroke="#000" stroke-width="1.0" />
<path d="M589.2,17.85L589.2,29.05" stroke="#000" stroke-width="1.0" />
<circle cx="589.20" cy="23.45" r="3.0" fill="#000"/>
<text x="598.5" y="27.35" font-size="12.3" >Data 2015</text>
<rect x="582.40" y="35.55" width="13.2" height="12.7" fill="#ff0000" stroke="#ff0000" stroke-width="0.8"/>
<text x="598.5" y="45.65" font-size="12.1" >WH</text>
<rect x="582.40" y="53.95" width="13.2" height="12.7" fill="#fff" stroke="#000" stroke-width="0.8"/>
<text x="598.5" y="64.05" font-size="12.1" >tt + light</text>
<path d="M601.8,54.15L605.4,54.15" stroke="#000" stroke-width="1.0" />
<rect x="582.40" y="72.35" width="13.2" height="12.7" fill="#9999ff" stroke="#000" stroke-width="0.8"/>
<text x="598.5" y="82.45" font-size="12.1" >tt + cc</text>
<path d="M601.8,72.55L605.4,72.55" stroke="#000" stroke-width="1.0" />
<path d="M624.7,74.05L631.3,74.05" stroke="#000" stroke-width="1.0" />
<rect x="582.40" y="90.75" width="13.2" height="12.7" fill="#6666ff" stroke="#000" stroke-width="0.8"/>
<text x="598.5" y="100.85" font-size="12.1" >tt + bb</text>
<path d="M601.8,90.95L605.4,90.95" stroke="#000" stroke-width="1.0" />
<path d="M625.1,89.75L632.7,89.75" stroke="#000" stroke-width="1.0" />
<rect x="582.40" y="109.15" width="13.2" height="12.7" fill="#00cc00" stroke="#000" stroke-width="0.8"/>
<text x="598.5" y="119.25" font-size="12.1" >Non-tt</text>
<path d="M628.7,109.35L632.3,109.35" stroke="#000" stroke-width="1.0" />
<text x="520.1" y="397.3" font-size="13.4" text-anchor="middle" style='font-family:"Liberation Serif", "Times New Roman", serif' font-weight="bold" >(b)</text>
<clipPath id="cmc"><rect x="219.6" y="429.1" width="282.79999999999995" height="267.5"/></clipPath>
<clipPath id="crc"><rect x="219.6" y="696.6" width="282.79999999999995" height="69.69999999999993"/></clipPath>
<g clip-path="url(#cmc)">
<rect x="371.5" y="618" width="20" height="9.5" fill="#ff0000"/>
<rect x="391.5" y="642" width="110.9" height="19.5" fill="#ff0000"/>
<path d="M219.60,698.60 L219.60,601.50 L300.50,601.50 L300.50,586.50 L371.50,586.50 L371.50,627.50 L391.50,627.50 L391.50,661.50 L502.40,661.50 L502.40,698.60Z" fill="#fff" stroke="#000" stroke-width="0.8" stroke-linejoin="miter"/>
<path d="M219.60,698.60 L219.60,604.50 L300.50,604.50 L300.50,590.50 L371.50,590.50 L371.50,627.50 L391.50,627.50 L391.50,661.50 L502.40,661.50 L502.40,698.60Z" fill="#9999ff" stroke="#000" stroke-width="0.8" stroke-linejoin="miter"/>
<path d="M219.60,698.60 L219.60,606.50 L300.50,606.50 L300.50,591.50 L371.50,591.50 L371.50,627.50 L391.50,627.50 L391.50,661.50 L502.40,661.50 L502.40,698.60Z" fill="#6666ff" stroke="#000" stroke-width="0.8" stroke-linejoin="miter"/>
<path d="M219.60,698.60 L219.60,626.50 L300.50,626.50 L300.50,611.50 L371.50,611.50 L371.50,635.50 L391.50,635.50 L391.50,678.50 L502.40,678.50 L502.40,698.60Z" fill="#00cc00" stroke="#000" stroke-width="0.8" stroke-linejoin="miter"/>
</g>
<clipPath id="h5"><rect x="219.6" y="599.8" width="80.9" height="2.5"/><rect x="300.5" y="585" width="71" height="2.8"/><rect x="371.5" y="616.6" width="20" height="2.8"/><rect x="391.5" y="641.5" width="110.9" height="2.7"/></clipPath>
<path clip-path="url(#h5)" d="M159,645l60,-60M163,645l60,-60M167,645l60,-60M171,645l60,-60M175,645l60,-60M179,645l60,-60M183,645l60,-60M187,645l60,-60M191,645l60,-60M195,645l60,-60M199,645l60,-60M203,645l60,-60M207,645l60,-60M211,645l60,-60M215,645l60,-60M219,645l60,-60M223,645l60,-60M227,645l60,-60M231,645l60,-60M235,645l60,-60M239,645l60,-60M243,645l60,-60M247,645l60,-60M251,645l60,-60M255,645l60,-60M259,645l60,-60M263,645l60,-60M267,645l60,-60M271,645l60,-60M275,645l60,-60M279,645l60,-60M283,645l60,-60M287,645l60,-60M291,645l60,-60M295,645l60,-60M299,645l60,-60M303,645l60,-60M307,645l60,-60M311,645l60,-60M315,645l60,-60M319,645l60,-60M323,645l60,-60M327,645l60,-60M331,645l60,-60M335,645l60,-60M339,645l60,-60M343,645l60,-60M347,645l60,-60M351,645l60,-60M355,645l60,-60M359,645l60,-60M363,645l60,-60M367,645l60,-60M371,645l60,-60M375,645l60,-60M379,645l60,-60M383,645l60,-60M387,645l60,-60M391,645l60,-60M395,645l60,-60M399,645l60,-60M403,645l60,-60M407,645l60,-60M411,645l60,-60M415,645l60,-60M419,645l60,-60M423,645l60,-60M427,645l60,-60M431,645l60,-60M435,645l60,-60M439,645l60,-60M443,645l60,-60M447,645l60,-60M451,645l60,-60M455,645l60,-60M459,645l60,-60M463,645l60,-60M467,645l60,-60M471,645l60,-60M475,645l60,-60M479,645l60,-60M483,645l60,-60M487,645l60,-60M491,645l60,-60M495,645l60,-60M499,645l60,-60" stroke="#6a6aff" stroke-width="1.05" fill="none"/>
<path d="M219.6,598.5L300.5,598.5" stroke="#000" stroke-width="1.0" />
<circle cx="260.50" cy="598.50" r="3.3" fill="#000"/>
<path d="M300.5,586.5L371.5,586.5" stroke="#000" stroke-width="1.0" />
<circle cx="335.50" cy="586.50" r="3.3" fill="#000"/>
<path d="M371.5,623.5L391.5,623.5" stroke="#000" stroke-width="1.0" />
<path d="M381.5,611.5L381.5,642.4" stroke="#000" stroke-width="1.0" />
<circle cx="381.50" cy="623.50" r="3.3" fill="#000"/>
<clipPath id="h6"><rect x="219.6" y="726.8" width="151.6" height="9.6"/><rect x="371.2" y="725.6" width="131.2" height="12"/></clipPath>
<path clip-path="url(#h6)" d="M206,738l13,-13M210,738l13,-13M214,738l13,-13M218,738l13,-13M222,738l13,-13M226,738l13,-13M230,738l13,-13M234,738l13,-13M238,738l13,-13M242,738l13,-13M246,738l13,-13M250,738l13,-13M254,738l13,-13M258,738l13,-13M262,738l13,-13M266,738l13,-13M270,738l13,-13M274,738l13,-13M278,738l13,-13M282,738l13,-13M286,738l13,-13M290,738l13,-13M294,738l13,-13M298,738l13,-13M302,738l13,-13M306,738l13,-13M310,738l13,-13M314,738l13,-13M318,738l13,-13M322,738l13,-13M326,738l13,-13M330,738l13,-13M334,738l13,-13M338,738l13,-13M342,738l13,-13M346,738l13,-13M350,738l13,-13M354,738l13,-13M358,738l13,-13M362,738l13,-13M366,738l13,-13M370,738l13,-13M374,738l13,-13M378,738l13,-13M382,738l13,-13M386,738l13,-13M390,738l13,-13M394,738l13,-13M398,738l13,-13M402,738l13,-13M406,738l13,-13M410,738l13,-13M414,738l13,-13M418,738l13,-13M422,738l13,-13M426,738l13,-13M430,738l13,-13M434,738l13,-13M438,738l13,-13M442,738l13,-13M446,738l13,-13M450,738l13,-13M454,738l13,-13M458,738l13,-13M462,738l13,-13M466,738l13,-13M470,738l13,-13M474,738l13,-13M478,738l13,-13M482,738l13,-13M486,738l13,-13M490,738l13,-13M494,738l13,-13M498,738l13,-13M502,738l13,-13" stroke="#6a6aff" stroke-width="1.05" fill="none"/>
<g clip-path="url(#crc)">
<path d="M219.6,731.5L502.4,731.5" stroke="#000" stroke-width="0.9" stroke-dasharray="2 2"/>
<path d="M219.6,720.5L300.5,720.5" stroke="#111" stroke-width="0.9" />
<path d="M260.5,710.6L260.5,730.4" stroke="#111" stroke-width="0.9" />
<circle cx="260.50" cy="720.50" r="3.2" fill="#fff" stroke="#222" stroke-width="0.8"/>
<path d="M300.5,733.5L371.2,733.5" stroke="#111" stroke-width="0.9" />
<path d="M335.5,729.3L335.5,737" stroke="#111" stroke-width="0.9" />
<circle cx="335.50" cy="733.50" r="3.2" fill="#fff" stroke="#222" stroke-width="0.8"/>
<path d="M371.2,714.5L391.7,714.5" stroke="#111" stroke-width="0.9" />
<path d="M381.5,690L381.5,770" stroke="#111" stroke-width="0.9" />
<circle cx="381.50" cy="714.50" r="3.2" fill="#fff" stroke="#222" stroke-width="0.8"/>
<path d="M447.5,690L447.5,770" stroke="#111" stroke-width="0.9" />
</g>
<rect x="219.6" y="429.1" width="282.79999999999995" height="267.5" fill="none" stroke="#000" stroke-width="0.9"/>
<rect x="219.6" y="696.6" width="282.79999999999995" height="69.69999999999993" fill="none" stroke="#000" stroke-width="0.9"/>
<text x="219.6" y="778.4" font-size="10.2" text-anchor="middle" >−0.6</text>
<text x="260" y="778.4" font-size="10.2" text-anchor="middle" >−0.4</text>
<text x="300.4" y="778.4" font-size="10.2" text-anchor="middle" >−0.2</text>
<text x="340.8" y="778.4" font-size="10.2" text-anchor="middle" >0</text>
<text x="381.2" y="778.4" font-size="10.2" text-anchor="middle" >0.2</text>
<text x="421.6" y="778.4" font-size="10.2" text-anchor="middle" >0.4</text>
<text x="462" y="778.4" font-size="10.2" text-anchor="middle" >0.6</text>
<text x="502.4" y="778.4" font-size="10.2" text-anchor="middle" >0.8</text>
<text x="216.6" y="701.05" font-size="10.2" text-anchor="end" >10<tspan dy="-4.6" font-size="6.2">−3</tspan></text>
<text x="216.6" y="676.73" font-size="10.2" text-anchor="end" >10<tspan dy="-4.6" font-size="6.2">−2</tspan></text>
<text x="216.6" y="652.41" font-size="10.2" text-anchor="end" >10<tspan dy="-4.6" font-size="6.2">−1</tspan></text>
<text x="216.6" y="628.1" font-size="10.2" text-anchor="end" >1</text>
<text x="216.6" y="603.78" font-size="10.2" text-anchor="end" >10</text>
<text x="216.6" y="579.46" font-size="10.2" text-anchor="end" >10<tspan dy="-4.6" font-size="6.2">2</tspan></text>
<text x="216.6" y="555.14" font-size="10.2" text-anchor="end" >10<tspan dy="-4.6" font-size="6.2">3</tspan></text>
<text x="216.6" y="530.82" font-size="10.2" text-anchor="end" >10<tspan dy="-4.6" font-size="6.2">4</tspan></text>
<text x="216.6" y="506.5" font-size="10.2" text-anchor="end" >10<tspan dy="-4.6" font-size="6.2">5</tspan></text>
<text x="216.6" y="482.19" font-size="10.2" text-anchor="end" >10<tspan dy="-4.6" font-size="6.2">6</tspan></text>
<text x="216.6" y="457.87" font-size="10.2" text-anchor="end" >10<tspan dy="-4.6" font-size="6.2">7</tspan></text>
<text x="216.6" y="433.55" font-size="10.2" text-anchor="end" >10<tspan dy="-4.6" font-size="6.2">8</tspan></text>
<text x="211.7" y="769.15" font-size="9.0" text-anchor="end" >0.25</text>
<text x="211.7" y="755.29" font-size="9.0" text-anchor="end" >0.55</text>
<text x="211.7" y="741.43" font-size="9.0" text-anchor="end" >0.85</text>
<text x="211.7" y="727.57" font-size="9.0" text-anchor="end" >1.15</text>
<text x="211.7" y="713.71" font-size="9.0" text-anchor="end" >1.45</text>
<path d="M219.6,429.1L219.6,435.6M219.6,696.6L219.6,690.1M219.6,696.6L219.6,699.6M219.6,766.3L219.6,763.3M229.7,429.1L229.7,432.3M229.7,696.6L229.7,693.4M229.7,696.6L229.7,698.1M229.7,766.3L229.7,764.8M239.8,429.1L239.8,432.3M239.8,696.6L239.8,693.4M239.8,696.6L239.8,698.1M239.8,766.3L239.8,764.8M249.9,429.1L249.9,432.3M249.9,696.6L249.9,693.4M249.9,696.6L249.9,698.1M249.9,766.3L249.9,764.8M260,429.1L260,435.6M260,696.6L260,690.1M260,696.6L260,699.6M260,766.3L260,763.3M270.1,429.1L270.1,432.3M270.1,696.6L270.1,693.4M270.1,696.6L270.1,698.1M270.1,766.3L270.1,764.8M280.2,429.1L280.2,432.3M280.2,696.6L280.2,693.4M280.2,696.6L280.2,698.1M280.2,766.3L280.2,764.8M290.3,429.1L290.3,432.3M290.3,696.6L290.3,693.4M290.3,696.6L290.3,698.1M290.3,766.3L290.3,764.8M300.4,429.1L300.4,435.6M300.4,696.6L300.4,690.1M300.4,696.6L300.4,699.6M300.4,766.3L300.4,763.3M310.5,429.1L310.5,432.3M310.5,696.6L310.5,693.4M310.5,696.6L310.5,698.1M310.5,766.3L310.5,764.8M320.6,429.1L320.6,432.3M320.6,696.6L320.6,693.4M320.6,696.6L320.6,698.1M320.6,766.3L320.6,764.8M330.7,429.1L330.7,432.3M330.7,696.6L330.7,693.4M330.7,696.6L330.7,698.1M330.7,766.3L330.7,764.8M340.8,429.1L340.8,435.6M340.8,696.6L340.8,690.1M340.8,696.6L340.8,699.6M340.8,766.3L340.8,763.3M350.9,429.1L350.9,432.3M350.9,696.6L350.9,693.4M350.9,696.6L350.9,698.1M350.9,766.3L350.9,764.8M361,429.1L361,432.3M361,696.6L361,693.4M361,696.6L361,698.1M361,766.3L361,764.8M371.1,429.1L371.1,432.3M371.1,696.6L371.1,693.4M371.1,696.6L371.1,698.1M371.1,766.3L371.1,764.8M381.2,429.1L381.2,435.6M381.2,696.6L381.2,690.1M381.2,696.6L381.2,699.6M381.2,766.3L381.2,763.3M391.3,429.1L391.3,432.3M391.3,696.6L391.3,693.4M391.3,696.6L391.3,698.1M391.3,766.3L391.3,764.8M401.4,429.1L401.4,432.3M401.4,696.6L401.4,693.4M401.4,696.6L401.4,698.1M401.4,766.3L401.4,764.8M411.5,429.1L411.5,432.3M411.5,696.6L411.5,693.4M411.5,696.6L411.5,698.1M411.5,766.3L411.5,764.8M421.6,429.1L421.6,435.6M421.6,696.6L421.6,690.1M421.6,696.6L421.6,699.6M421.6,766.3L421.6,763.3M431.7,429.1L431.7,432.3M431.7,696.6L431.7,693.4M431.7,696.6L431.7,698.1M431.7,766.3L431.7,764.8M441.8,429.1L441.8,432.3M441.8,696.6L441.8,693.4M441.8,696.6L441.8,698.1M441.8,766.3L441.8,764.8M451.9,429.1L451.9,432.3M451.9,696.6L451.9,693.4M451.9,696.6L451.9,698.1M451.9,766.3L451.9,764.8M462,429.1L462,435.6M462,696.6L462,690.1M462,696.6L462,699.6M462,766.3L462,763.3M472.1,429.1L472.1,432.3M472.1,696.6L472.1,693.4M472.1,696.6L472.1,698.1M472.1,766.3L472.1,764.8M482.2,429.1L482.2,432.3M482.2,696.6L482.2,693.4M482.2,696.6L482.2,698.1M482.2,766.3L482.2,764.8M492.3,429.1L492.3,432.3M492.3,696.6L492.3,693.4M492.3,696.6L492.3,698.1M492.3,766.3L492.3,764.8M502.4,429.1L502.4,435.6M502.4,696.6L502.4,690.1M502.4,696.6L502.4,699.6M502.4,766.3L502.4,763.3M219.6,696.6L228.4,696.6M502.4,696.6L493.6,696.6M219.6,672.28L228.4,672.28M502.4,672.28L493.6,672.28M219.6,647.96L228.4,647.96M502.4,647.96L493.6,647.96M219.6,623.65L228.4,623.65M502.4,623.65L493.6,623.65M219.6,599.33L228.4,599.33M502.4,599.33L493.6,599.33M219.6,575.01L228.4,575.01M502.4,575.01L493.6,575.01M219.6,550.69L228.4,550.69M502.4,550.69L493.6,550.69M219.6,526.37L228.4,526.37M502.4,526.37L493.6,526.37M219.6,502.05L228.4,502.05M502.4,502.05L493.6,502.05M219.6,477.74L228.4,477.74M502.4,477.74L493.6,477.74M219.6,453.42L228.4,453.42M502.4,453.42L493.6,453.42M219.6,429.1L228.4,429.1M502.4,429.1L493.6,429.1" stroke="#000" stroke-width="0.9" fill="none"/>
<path d="M219.6,689.28L224.5,689.28M502.4,689.28L497.5,689.28M219.6,685L224.5,685M502.4,685L497.5,685M219.6,681.96L224.5,681.96M502.4,681.96L497.5,681.96M219.6,679.6L224.5,679.6M502.4,679.6L497.5,679.6M219.6,677.68L224.5,677.68M502.4,677.68L497.5,677.68M219.6,676.05L224.5,676.05M502.4,676.05L497.5,676.05M219.6,674.64L224.5,674.64M502.4,674.64L497.5,674.64M219.6,673.39L224.5,673.39M502.4,673.39L497.5,673.39M219.6,664.96L224.5,664.96M502.4,664.96L497.5,664.96M219.6,660.68L224.5,660.68M502.4,660.68L497.5,660.68M219.6,657.64L224.5,657.64M502.4,657.64L497.5,657.64M219.6,655.28L224.5,655.28M502.4,655.28L497.5,655.28M219.6,653.36L224.5,653.36M502.4,653.36L497.5,653.36M219.6,651.73L224.5,651.73M502.4,651.73L497.5,651.73M219.6,650.32L224.5,650.32M502.4,650.32L497.5,650.32M219.6,649.08L224.5,649.08M502.4,649.08L497.5,649.08M219.6,640.64L224.5,640.64M502.4,640.64L497.5,640.64M219.6,636.36L224.5,636.36M502.4,636.36L497.5,636.36M219.6,633.32L224.5,633.32M502.4,633.32L497.5,633.32M219.6,630.97L224.5,630.97M502.4,630.97L497.5,630.97M219.6,629.04L224.5,629.04M502.4,629.04L497.5,629.04M219.6,627.41L224.5,627.41M502.4,627.41L497.5,627.41M219.6,626L224.5,626M502.4,626L497.5,626M219.6,624.76L224.5,624.76M502.4,624.76L497.5,624.76M219.6,616.32L224.5,616.32M502.4,616.32L497.5,616.32M219.6,612.04L224.5,612.04M502.4,612.04L497.5,612.04M219.6,609L224.5,609M502.4,609L497.5,609M219.6,606.65L224.5,606.65M502.4,606.65L497.5,606.65M219.6,604.72L224.5,604.72M502.4,604.72L497.5,604.72M219.6,603.09L224.5,603.09M502.4,603.09L497.5,603.09M219.6,601.68L224.5,601.68M502.4,601.68L497.5,601.68M219.6,600.44L224.5,600.44M502.4,600.44L497.5,600.44M219.6,592.01L224.5,592.01M502.4,592.01L497.5,592.01M219.6,587.72L224.5,587.72M502.4,587.72L497.5,587.72M219.6,584.69L224.5,584.69M502.4,584.69L497.5,584.69M219.6,582.33L224.5,582.33M502.4,582.33L497.5,582.33M219.6,580.4L224.5,580.4M502.4,580.4L497.5,580.4M219.6,578.78L224.5,578.78M502.4,578.78L497.5,578.78M219.6,577.37L224.5,577.37M502.4,577.37L497.5,577.37M219.6,576.12L224.5,576.12M502.4,576.12L497.5,576.12M219.6,567.69L224.5,567.69M502.4,567.69L497.5,567.69M219.6,563.41L224.5,563.41M502.4,563.41L497.5,563.41M219.6,560.37L224.5,560.37M502.4,560.37L497.5,560.37M219.6,558.01L224.5,558.01M502.4,558.01L497.5,558.01M219.6,556.09L224.5,556.09M502.4,556.09L497.5,556.09M219.6,554.46L224.5,554.46M502.4,554.46L497.5,554.46M219.6,553.05L224.5,553.05M502.4,553.05L497.5,553.05M219.6,551.8L224.5,551.8M502.4,551.8L497.5,551.8M219.6,543.37L224.5,543.37M502.4,543.37L497.5,543.37M219.6,539.09L224.5,539.09M502.4,539.09L497.5,539.09M219.6,536.05L224.5,536.05M502.4,536.05L497.5,536.05M219.6,533.69L224.5,533.69M502.4,533.69L497.5,533.69M219.6,531.77L224.5,531.77M502.4,531.77L497.5,531.77M219.6,530.14L224.5,530.14M502.4,530.14L497.5,530.14M219.6,528.73L224.5,528.73M502.4,528.73L497.5,528.73M219.6,527.49L224.5,527.49M502.4,527.49L497.5,527.49M219.6,519.05L224.5,519.05M502.4,519.05L497.5,519.05M219.6,514.77L224.5,514.77M502.4,514.77L497.5,514.77M219.6,511.73L224.5,511.73M502.4,511.73L497.5,511.73M219.6,509.38L224.5,509.38M502.4,509.38L497.5,509.38M219.6,507.45L224.5,507.45M502.4,507.45L497.5,507.45M219.6,505.82L224.5,505.82M502.4,505.82L497.5,505.82M219.6,504.41L224.5,504.41M502.4,504.41L497.5,504.41M219.6,503.17L224.5,503.17M502.4,503.17L497.5,503.17M219.6,494.73L224.5,494.73M502.4,494.73L497.5,494.73M219.6,490.45L224.5,490.45M502.4,490.45L497.5,490.45M219.6,487.41L224.5,487.41M502.4,487.41L497.5,487.41M219.6,485.06L224.5,485.06M502.4,485.06L497.5,485.06M219.6,483.13L224.5,483.13M502.4,483.13L497.5,483.13M219.6,481.5L224.5,481.5M502.4,481.5L497.5,481.5M219.6,480.09L224.5,480.09M502.4,480.09L497.5,480.09M219.6,478.85L224.5,478.85M502.4,478.85L497.5,478.85M219.6,470.42L224.5,470.42M502.4,470.42L497.5,470.42M219.6,466.13L224.5,466.13M502.4,466.13L497.5,466.13M219.6,463.1L224.5,463.1M502.4,463.1L497.5,463.1M219.6,460.74L224.5,460.74M502.4,460.74L497.5,460.74M219.6,458.81L224.5,458.81M502.4,458.81L497.5,458.81M219.6,457.19L224.5,457.19M502.4,457.19L497.5,457.19M219.6,455.77L224.5,455.77M502.4,455.77L497.5,455.77M219.6,454.53L224.5,454.53M502.4,454.53L497.5,454.53M219.6,446.1L224.5,446.1M502.4,446.1L497.5,446.1M219.6,441.82L224.5,441.82M502.4,441.82L497.5,441.82M219.6,438.78L224.5,438.78M502.4,438.78L497.5,438.78M219.6,436.42L224.5,436.42M502.4,436.42L497.5,436.42M219.6,434.49L224.5,434.49M502.4,434.49L497.5,434.49M219.6,432.87L224.5,432.87M502.4,432.87L497.5,432.87M219.6,431.46L224.5,431.46M502.4,431.46L497.5,431.46M219.6,430.21L224.5,430.21M502.4,430.21L497.5,430.21M219.6,766.15L226.1,766.15M502.4,766.15L495.9,766.15M219.6,763.38L223,763.38M502.4,763.38L499,763.38M219.6,760.61L223,760.61M502.4,760.61L499,760.61M219.6,757.83L223,757.83M502.4,757.83L499,757.83M219.6,755.06L223,755.06M502.4,755.06L499,755.06M219.6,752.29L226.1,752.29M502.4,752.29L495.9,752.29M219.6,749.52L223,749.52M502.4,749.52L499,749.52M219.6,746.75L223,746.75M502.4,746.75L499,746.75M219.6,743.97L223,743.97M502.4,743.97L499,743.97M219.6,741.2L223,741.2M502.4,741.2L499,741.2M219.6,738.43L226.1,738.43M502.4,738.43L495.9,738.43M219.6,735.66L223,735.66M502.4,735.66L499,735.66M219.6,732.89L223,732.89M502.4,732.89L499,732.89M219.6,730.11L223,730.11M502.4,730.11L499,730.11M219.6,727.34L223,727.34M502.4,727.34L499,727.34M219.6,724.57L226.1,724.57M502.4,724.57L495.9,724.57M219.6,721.8L223,721.8M502.4,721.8L499,721.8M219.6,719.03L223,719.03M502.4,719.03L499,719.03M219.6,716.25L223,716.25M502.4,716.25L499,716.25M219.6,713.48L223,713.48M502.4,713.48L499,713.48M219.6,710.71L226.1,710.71M502.4,710.71L495.9,710.71M219.6,707.94L223,707.94M502.4,707.94L499,707.94M219.6,705.17L223,705.17M502.4,705.17L499,705.17M219.6,702.39L223,702.39M502.4,702.39L499,702.39M219.6,699.62L223,699.62M502.4,699.62L499,699.62M219.6,696.85L226.1,696.85M502.4,696.85L495.9,696.85" stroke="#000" stroke-width="0.8" fill="none"/>
<text x="502.8" y="796.3" font-size="13.55" text-anchor="end" >BDT output (4j, 4b)</text>
<text transform="translate(184.70,427.90) rotate(-90)" font-size="13.15" text-anchor="end">Events / 0.1</text>
<text transform="translate(184.70,768.00) rotate(-90)" font-size="13.15" text-anchor="start">Data / Pred.</text>
<text x="234.1" y="451.1" font-size="11.65" font-weight="bold" font-style="italic" >ATLAS</text>
<text x="233.5" y="470.4" font-size="12.6" style="font-family:'DejaVu Sans',sans-serif" textLength="6.4" lengthAdjust="spacingAndGlyphs">√</text>
<path d="M239.7,459.15L246.7,459.15" stroke="#000" stroke-width="0.85" />
<text x="240.5" y="470.2" font-size="12.2" >s = 13 TeV, 3.2 fb<tspan dy="-6.2" dx="1.0" font-size="7.8">-1</tspan></text>
<text x="234.1" y="489.3" font-size="12.2" >4 jets, 4 b-tags</text>
<text x="234.1" y="508.3" font-size="12.2" >H <tspan font-family="DejaVu Sans" font-size="13.6" dy="0.6">→</tspan><tspan dy="-0.6" dx="0.6"> 2a </tspan><tspan font-family="DejaVu Sans" font-size="13.6" dy="0.6">→</tspan><tspan dy="-0.6" dx="1.2"> 4b, m</tspan><tspan dy="4.4" font-size="8.2">a</tspan><tspan dy="-4.4" dx="0.8"> = 60 GeV</tspan></text>
<path d="M407.8,444.85L420.8,444.85" stroke="#000" stroke-width="1.0" />
<path d="M414.3,439.25L414.3,450.45" stroke="#000" stroke-width="1.0" />
<circle cx="414.30" cy="444.85" r="3.0" fill="#000"/>
<text x="423.6" y="448.75" font-size="12.3" >Data 2015</text>
<rect x="407.50" y="456.95" width="13.2" height="12.7" fill="#ff0000" stroke="#ff0000" stroke-width="0.8"/>
<text x="423.6" y="467.05" font-size="12.1" >WH</text>
<rect x="407.50" y="475.35" width="13.2" height="12.7" fill="#fff" stroke="#000" stroke-width="0.8"/>
<text x="423.6" y="485.45" font-size="12.1" >tt + light</text>
<path d="M426.9,475.55L430.5,475.55" stroke="#000" stroke-width="1.0" />
<rect x="407.50" y="493.75" width="13.2" height="12.7" fill="#9999ff" stroke="#000" stroke-width="0.8"/>
<text x="423.6" y="503.85" font-size="12.1" >tt + cc</text>
<path d="M426.9,493.95L430.5,493.95" stroke="#000" stroke-width="1.0" />
<path d="M449.8,495.45L456.4,495.45" stroke="#000" stroke-width="1.0" />
<rect x="407.50" y="512.15" width="13.2" height="12.7" fill="#6666ff" stroke="#000" stroke-width="0.8"/>
<text x="423.6" y="522.25" font-size="12.1" >tt + bb</text>
<path d="M426.9,512.35L430.5,512.35" stroke="#000" stroke-width="1.0" />
<path d="M450.2,511.15L457.8,511.15" stroke="#000" stroke-width="1.0" />
<rect x="407.50" y="530.55" width="13.2" height="12.7" fill="#00cc00" stroke="#000" stroke-width="0.8"/>
<text x="423.6" y="540.65" font-size="12.1" >Non-tt</text>
<path d="M453.8,530.75L457.4,530.75" stroke="#000" stroke-width="1.0" />
<text x="345.1" y="819.1" font-size="13.4" text-anchor="middle" style='font-family:"Liberation Serif", "Times New Roman", serif' font-weight="bold" >(c)</text>
</svg>
</body></html>
